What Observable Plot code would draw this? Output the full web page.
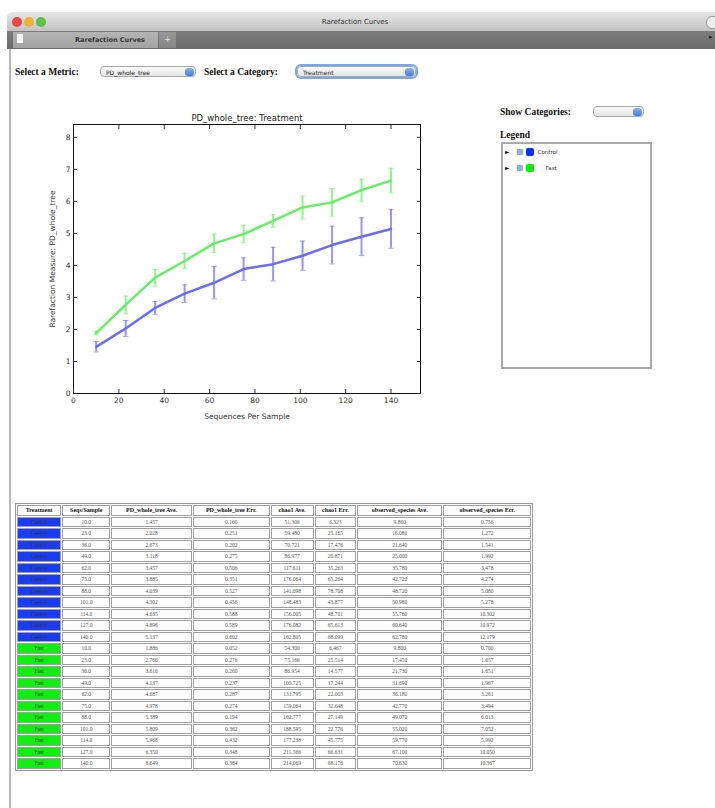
<!DOCTYPE html>
<html>
<head>
<meta charset="utf-8">
<script src="https://cdn.jsdelivr.net/npm/d3@7"></script>
<script src="https://cdn.jsdelivr.net/npm/@observablehq/plot@0.6"></script>
<style>
  html, body { margin:0; padding:0; background:#fff; width:715px; height:808px; overflow:hidden; position:relative; }
  .abs { position:absolute; }
  .serif { font-family:"Liberation Serif", "DejaVu Serif", serif; }
  .sel { position:absolute; height:11px; border:1px solid #a8a8a8; border-radius:4px; background:linear-gradient(#fdfdfd,#e4e4e4); font-family:"DejaVu Sans",sans-serif; font-size:6px; line-height:11px; color:#222; padding-left:5px; box-sizing:border-box; }
  .sel .btn { position:absolute; right:1px; top:1px; width:9px; height:8px; border-radius:3px; background:linear-gradient(#8ab4f0,#3f7ddc); }
  table.data { border-collapse:separate; border-spacing:1px; border:1px solid #9a9a9a; font-family:"Liberation Serif",serif; font-size:5.5px; table-layout:fixed; background:#fff; }
  table.data td, table.data th { border:1px solid #a0a0a0; padding:0; height:8.5px; line-height:8.5px; text-align:center; color:#555; overflow:hidden; white-space:nowrap; }
  table.data th { color:#111; font-weight:bold; font-size:6px; }
</style>
</head>
<body>
<!-- browser chrome -->
<div class="abs" style="left:7px;top:12px;width:708px;height:19px;background:linear-gradient(#e6e6e6,#c2c2c2);border-top-left-radius:5px;"></div>
<div class="abs" style="left:12px;top:17px;width:10px;height:10px;border-radius:50%;background:#e8463e;"></div>
<div class="abs" style="left:24px;top:17px;width:10px;height:10px;border-radius:50%;background:#f2b036;"></div>
<div class="abs" style="left:36px;top:17px;width:10px;height:10px;border-radius:50%;background:#5fc04a;"></div>
<div class="abs" style="left:706px;top:16px;width:12px;height:11px;border-radius:6px;border:1px solid #999;background:#eee;"></div>
<div class="abs" style="left:300px;top:15px;width:110px;text-align:center;font-family:'DejaVu Sans',sans-serif;font-size:7px;line-height:14px;color:#333;">Rarefaction Curves</div>
<div class="abs" style="left:7px;top:31px;width:708px;height:18px;background:linear-gradient(#7d7d7d,#6a6a6a);"></div>
<div class="abs" style="left:13px;top:32px;width:145px;height:16px;background:linear-gradient(#b5b5b5,#a2a2a2);"></div>
<div class="abs" style="left:17px;top:34px;width:6px;height:9px;background:#f4f4f4;"></div>
<div class="abs" style="left:60px;top:33px;width:100px;text-align:center;font-family:'DejaVu Sans',sans-serif;font-size:6.5px;font-weight:bold;line-height:14px;color:#333;">Rarefaction Curves</div>
<div class="abs" style="left:159px;top:32px;width:17px;height:16px;background:linear-gradient(#979797,#868686);text-align:center;font-family:'DejaVu Sans',sans-serif;font-size:8px;line-height:15px;color:#ddd;">+</div>
<div class="abs" style="left:709px;top:33px;font-size:7px;color:#222;font-family:'DejaVu Sans',sans-serif;">▸</div>
<div class="abs" style="left:9px;top:49px;width:2px;height:759px;background:#b8b8b8;"></div>

<!-- controls -->
<div class="abs serif" style="left:15px;top:65px;font-size:9.5px;font-weight:bold;line-height:14px;color:#111;">Select a Metric:</div>
<div class="sel" style="left:100px;top:66px;width:96px;">PD_whole_tree<div class="btn"></div></div>
<div class="abs serif" style="left:204px;top:65px;font-size:9.5px;font-weight:bold;line-height:14px;color:#111;">Select a Category:</div>
<div class="sel" style="left:297px;top:66px;width:119px;box-shadow:0 0 0 2px #7aa7e8;">Treatment<div class="btn"></div></div>

<div class="abs serif" style="left:500px;top:105px;font-size:9.5px;font-weight:bold;line-height:14px;color:#111;">Show Categories:</div>
<div class="sel" style="left:593px;top:106px;width:51px;"><div class="btn"></div></div>
<div class="abs serif" style="left:500px;top:128px;font-size:9.5px;font-weight:bold;line-height:14px;color:#111;">Legend</div>
<div id="legend" class="abs" style="left:501px;top:142px;width:151px;height:227px;border:2px solid #a9a9a9;box-sizing:border-box;"></div>

<div id="chart" class="abs" style="left:40px;top:100px;"></div>
<div id="tbl" class="abs" style="left:15px;top:503px;"></div>

<script>
// ---- data ----
const groups = ["Control", "Fast"];
const groupColors = ["#6b6bff", "#66ee66"];
const legendColors = ["#0033ff", "#00ee00"];
const cellColors = ["#1a3cf2", "#11ee11"];
const seqsPerSample = [10, 23, 36, 49, 62, 75, 88, 101, 114, 127, 140];

const controlPDAve = [1.457, 2.028, 2.673, 3.118, 3.457, 3.885, 4.039, 4.302, 4.635, 4.896, 5.137];
const controlPDErr = [0.160, 0.251, 0.202, 0.275, 0.506, 0.351, 0.527, 0.456, 0.588, 0.589, 0.602];
const controlChao1Ave = [51.306, 59.480, 70.721, 86.977, 117.611, 176.064, 141.098, 148.483, 156.005, 176.082, 162.805];
const controlChao1Err = [6.323, 25.165, 17.476, 20.871, 35.263, 65.264, 78.708, 43.877, 48.701, 65.613, 68.099];
const controlObsAve = [9.860, 16.080, 21.640, 25.000, 35.780, 42.720, 48.720, 50.980, 55.760, 60.640, 62.780];
const controlObsErr = [0.756, 1.272, 1.541, 1.992, 3.478, 4.274, 5.080, 5.278, 10.302, 10.972, 12.179];

const fastPDAve = [1.886, 2.766, 3.616, 4.137, 4.687, 4.978, 5.389, 5.809, 5.968, 6.350, 6.649];
const fastPDErr = [0.052, 0.276, 0.260, 0.237, 0.287, 0.274, 0.194, 0.362, 0.432, 0.348, 0.384];
const fastChao1Ave = [54.300, 75.166, 86.954, 105.725, 131.795, 159.064, 162.777, 188.595, 177.238, 211.566, 214.069];
const fastChao1Err = [6.467, 25.514, 14.577, 17.244, 22.003, 32.648, 27.149, 22.776, 45.775, 66.631, 68.176];
const fastObsAve = [9.800, 17.450, 21.730, 31.690, 36.180, 42.770, 49.070, 55.020, 59.770, 67.100, 70.630];
const fastObsErr = [0.700, 1.657, 1.651, 1.967, 3.261, 3.494, 6.013, 7.052, 5.992, 10.050, 10.367];

const xTicks = [0, 20, 40, 60, 80, 100, 120, 140];
const yTicks = [0, 1, 2, 3, 4, 5, 6, 7, 8];
const tableHeaders = ["Treatment", "Seqs/Sample", "PD_whole_tree Ave.", "PD_whole_tree Err.", "chao1 Ave.", "chao1 Err.", "observed_species Ave.", "observed_species Err."];
const chartTitle = "PD_whole_tree: Treatment";
const xLabel = "Sequences Per Sample";
const yLabel = "Rarefaction Measure: PD_whole_tree";

// ---- build rows ----
const series = {
  Control: [controlPDAve, controlPDErr, controlChao1Ave, controlChao1Err, controlObsAve, controlObsErr],
  Fast: [fastPDAve, fastPDErr, fastChao1Ave, fastChao1Err, fastObsAve, fastObsErr]
};
const rows = [];
for (const g of groups) {
  const s = series[g];
  seqsPerSample.forEach((x, i) => {
    rows.push({g, x, y: s[0][i], e: s[1][i], vals: s.map(a => a[i])});
  });
}

const capSymbol = {draw(ctx, size) { const w = Math.sqrt(size) / 2; ctx.moveTo(-w, 0); ctx.lineTo(w, 0); }};

const chart = Plot.plot({
  width: 400, height: 330,
  marginLeft: 33, marginRight: 20, marginTop: 24, marginBottom: 37,
  style: {fontFamily: "DejaVu Sans, sans-serif", fontSize: "7.5px", color: "#333", background: "transparent"},
  x: {domain: [0, 153]},
  y: {domain: [0, 8.4]},
  color: {domain: groups, range: groupColors},
  marks: [
    Plot.frame({stroke: "#111", strokeWidth: 1}),
    Plot.axisX({ticks: xTicks, tickSize: -4, tickPadding: 8, label: xLabel, labelAnchor: "center", labelArrow: "none", labelOffset: 25, fontSize: 7.5}),
    Plot.axisX({anchor: "top", ticks: xTicks, tickSize: -4, tickFormat: () => "", label: null}),
    Plot.axisY({ticks: yTicks, tickSize: -4, tickPadding: 7, label: yLabel, labelAnchor: "center", labelArrow: "none", labelOffset: 24, fontSize: 7.5}),
    Plot.axisY({anchor: "right", ticks: yTicks, tickSize: -4, tickFormat: () => "", label: null}),
    Plot.ruleX(rows, {x: "x", y1: d => d.y - d.e, y2: d => d.y + d.e, stroke: "g", strokeWidth: 2, strokeOpacity: 0.7}),
    Plot.dot(rows, {x: "x", y: d => d.y + d.e, symbol: capSymbol, r: 3, stroke: "g", strokeWidth: 1, strokeOpacity: 0.6}),
    Plot.dot(rows, {x: "x", y: d => d.y - d.e, symbol: capSymbol, r: 3, stroke: "g", strokeWidth: 1, strokeOpacity: 0.6}),
    Plot.line(rows, {x: "x", y: "y", z: "g", stroke: "g", strokeWidth: 2.5}),
    Plot.text([chartTitle], {frameAnchor: "top", dy: -10, fontSize: 8.5, fill: "#222"})
  ]
});
document.getElementById("chart").appendChild(chart);

// ---- legend ----
const leg = document.getElementById("legend");
groups.forEach((g, i) => {
  const r = document.createElement("div");
  r.style.cssText = `position:absolute;left:2px;top:${3 + i * 16}px;height:10px;font-family:'DejaVu Sans',sans-serif;font-size:5.5px;line-height:10px;color:#333;white-space:nowrap;`;
  r.innerHTML = `<span style="font-size:6px;color:#111;">&#9658;</span>` +
    `<span style="display:inline-block;width:6px;height:6px;margin-left:7px;vertical-align:-1px;background:#8fb0d8;border-radius:1px;"></span>` +
    `<span style="display:inline-block;width:8px;height:8px;margin-left:3px;vertical-align:-2px;background:${legendColors[i]};border-radius:2px;"></span>` +
    `<span style="margin-left:${i === 0 ? 4 : 12}px;">${g}</span>`;
  leg.appendChild(r);
});

// ---- table ----
const colW = [45, 49, 82, 78, 44, 42, 87, 89];
const colSum = colW.reduce((a, b) => a + b, 0);
const t = document.createElement("table");
t.className = "data";
t.style.width = "518px";
const cg = document.createElement("colgroup");
colW.forEach(w => { const c = document.createElement("col"); c.style.width = (100 * w / colSum) + "%"; cg.appendChild(c); });
t.appendChild(cg);
const hr = document.createElement("tr");
tableHeaders.forEach(h => { const th = document.createElement("th"); th.textContent = h; hr.appendChild(th); });
t.appendChild(hr);
rows.forEach(r => {
  const tr = document.createElement("tr");
  const td0 = document.createElement("td");
  td0.textContent = r.g;
  td0.style.background = cellColors[groups.indexOf(r.g)];
  td0.style.color = "#333";
  tr.appendChild(td0);
  const td1 = document.createElement("td");
  td1.textContent = r.x.toFixed(1);
  tr.appendChild(td1);
  r.vals.forEach(v => { const td = document.createElement("td"); td.textContent = v.toFixed(3); tr.appendChild(td); });
  t.appendChild(tr);
});
document.getElementById("tbl").appendChild(t);
</script>
</body>
</html>
